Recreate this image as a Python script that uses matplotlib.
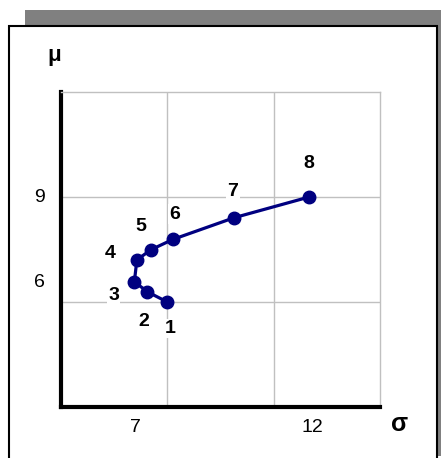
#!/usr/bin/env python3
"""
Risk / return path of eight portfolios (sigma vs mu)
"""

import matplotlib
matplotlib.use("Agg")
import matplotlib.pyplot as plt
from matplotlib.patches import Rectangle

plt.rcParams['font.family'] = ['Liberation Sans', 'DejaVu Sans']

# Portfolio risk (sigma) and expected return (mu)
sigma = [8.0, 7.44, 7.07, 7.14, 7.53, 8.16, 9.89, 12.0]
mu = [6.0, 6.29, 6.58, 7.2, 7.49, 7.79, 8.41, 9.0]
point_labels = ['1', '2', '3', '4', '5', '6', '7', '8']

# label offsets from each point, in points
label_offsets = [(2, -19), (-3, -21), (-15, -10), (-19, 5),
                 (-7, 17), (1, 18), (-1, 19), (0, 24)]

# axis annotations drawn as loose text
sigma_marks = [7, 12]
mu_marks = [9, 6]
mu_mark_pos = [9.0, 6.55]

W, H = 442, 458
fig = plt.figure(figsize=(W / 100, H / 100), dpi=100)

# drop shadow and frame around the chart
fig.patches.append(Rectangle((25 / W, 2 / H), 416 / W, 446 / H,
                             transform=fig.transFigure, facecolor='#808080',
                             edgecolor='none', zorder=0))
fig.patches.append(Rectangle((9 / W, -4 / H), 428 / W, 436 / H,
                             transform=fig.transFigure, facecolor='white',
                             edgecolor='black', linewidth=1.5, zorder=1))

ax = fig.add_axes([61 / W, (H - 407) / H, 319 / W, 315 / H])
ax.set_zorder(2)
ax.patch.set_alpha(0)

ax.set_xlim(5, 14)
ax.set_ylim(3, 12)
ax.set_xticks([8, 11])
ax.set_yticks([6, 9])
ax.tick_params(length=0, labelbottom=False, labelleft=False)
ax.grid(True, color='#c0c0c0', linewidth=1)
ax.set_axisbelow(True)

for side in ['left', 'bottom']:
    ax.spines[side].set_linewidth(3)
    ax.spines[side].set_color('black')
for side in ['top', 'right']:
    ax.spines[side].set_linewidth(1)
    ax.spines[side].set_color('#c0c0c0')

ax.plot(sigma, mu, color='#000080', linewidth=2.3, marker='o',
        markersize=9, zorder=3, clip_on=False)

for x, y, lab, off in zip(sigma, mu, point_labels, label_offsets):
    ax.annotate(lab, (x, y), xytext=off, textcoords='offset points',
                ha='center', va='center', fontsize=14, fontweight='bold',
                bbox=dict(facecolor='white', edgecolor='none', pad=1),
                zorder=2.5)

for v in sigma_marks:
    ax.text(v + 0.1, 2.4, str(v), ha='center', va='center', fontsize=14,
            transform=ax.transData, clip_on=False)
for v, pos in zip(mu_marks, mu_mark_pos):
    ax.text(4.4, pos, str(v), ha='center', va='center', fontsize=14,
            transform=ax.transData, clip_on=False)

fig.text(54 / W, 1 - 55 / H, 'μ', ha='center', va='center',
         fontsize=16, fontweight='bold', zorder=3)
fig.text(400 / W, 1 - 424 / H, 'σ', ha='center', va='center',
         fontsize=18, fontweight='bold', zorder=3)

fig.savefig('out.png', dpi=100)
